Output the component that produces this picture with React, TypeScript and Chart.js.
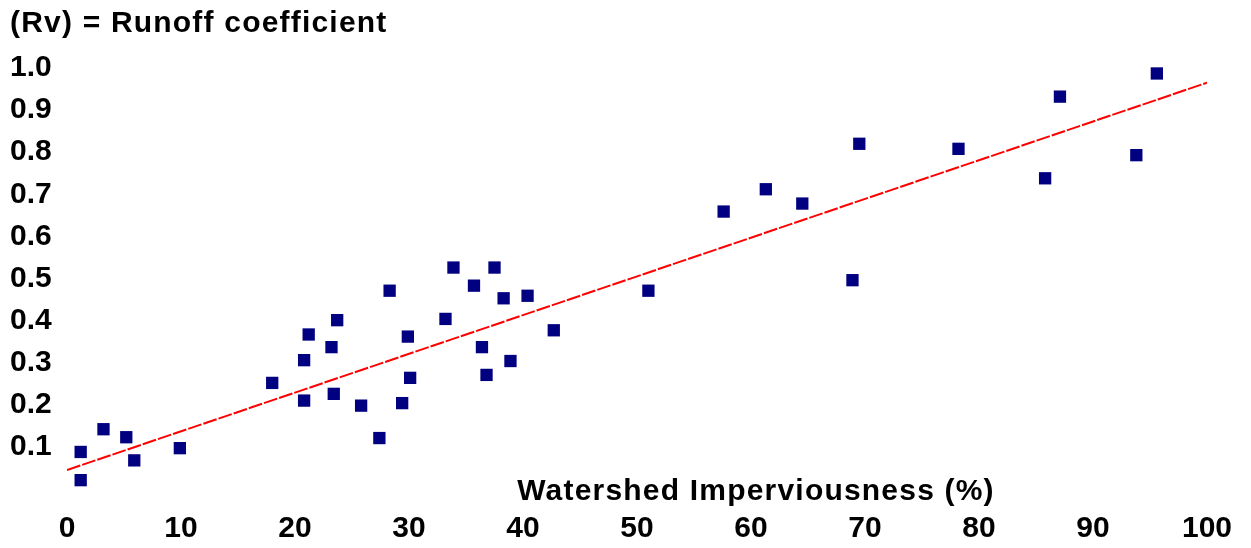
import React, { useEffect, useRef } from "react";
import { Chart, registerables } from "chart.js";

Chart.register(...registerables);

const imperviousness = [1.2, 1.2, 3.2, 5.2, 5.9, 9.9, 18.0, 20.8, 21.2, 20.8, 23.2, 23.7, 23.4, 25.8, 27.4, 28.3, 29.9, 29.4, 30.1, 33.2, 33.9, 35.7, 37.5, 36.4, 36.8, 38.3, 38.9, 40.4, 42.7, 51.0, 57.6, 61.3, 64.5, 68.9, 69.5, 78.2, 85.8, 87.1, 93.8, 95.6];
const runoff = [0.088, 0.021, 0.142, 0.123, 0.068, 0.097, 0.252, 0.306, 0.367, 0.21, 0.337, 0.401, 0.226, 0.198, 0.121, 0.471, 0.362, 0.204, 0.264, 0.404, 0.526, 0.483, 0.526, 0.337, 0.271, 0.453, 0.304, 0.459, 0.377, 0.471, 0.659, 0.712, 0.678, 0.496, 0.82, 0.808, 0.738, 0.932, 0.793, 0.987];
const trendX = [0, 100];
const trendY = [0.045, 0.965];
const yTitle = "(Rv) = Runoff coefficient";
const xTitle = "Watershed Imperviousness (%)";

const FONT = "'Liberation Sans', Arial, sans-serif";

export default function App() {
  const ref = useRef<HTMLCanvasElement | null>(null);
  useEffect(() => {
    if (!ref.current) return;
    const titles = {
      id: "titles",
      afterDraw(chart: any) {
        const ctx = chart.ctx;
        ctx.save();
        ctx.fillStyle = "#000";
        ctx.font = `bold 30px ${FONT}`;
        (ctx as any).letterSpacing = "1.2px";
        ctx.textBaseline = "middle";
        ctx.textAlign = "left";
        ctx.fillText(yTitle, 10, 24);
        ctx.textAlign = "center";
        ctx.fillText(xTitle, 756, 492);
        (ctx as any).letterSpacing = "0px";
        ctx.restore();
      },
    };
    const chart = new Chart(ref.current, {
      type: "scatter",
      data: {
        datasets: [
          {
            type: "line",
            data: trendX.map((x, i) => ({ x, y: trendY[i] })),
            borderColor: "#ff0000",
            borderWidth: 2,
            borderDash: [14, 2],
            pointRadius: 0,
            fill: false,
            order: 2,
          } as any,
          {
            data: imperviousness.map((x, i) => ({ x, y: runoff[i] })),
            pointStyle: "rect",
            pointRadius: 8.7,
            pointBorderWidth: 0,
            backgroundColor: "#000080",
            borderColor: "#000080",
            order: 1,
            clip: false,
          } as any,
        ],
      },
      options: {
        animation: false,
        responsive: false,
        maintainAspectRatio: false,
        layout: { padding: { left: 10, top: 68, right: 44, bottom: 0 } },
        plugins: { legend: { display: false }, tooltip: { enabled: false }, title: { display: false } },
        scales: {
          x: {
            type: "linear",
            min: 0,
            max: 100,
            grid: { display: false, drawTicks: false },
            border: { display: false },
            ticks: {
              stepSize: 10,
              padding: 22,
              color: "#000",
              font: { family: FONT, size: 30, weight: "bold" },
              maxRotation: 0,
            },
            afterFit: (s: any) => { s.height = 59; s.paddingRight = 0; s.paddingLeft = 0; },
          },
          y: {
            min: 0,
            max: 1,
            grid: { display: false, drawTicks: false },
            border: { display: false },
            ticks: {
              stepSize: 0.1,
              color: "#000",
              crossAlign: "far",
              font: { family: FONT, size: 30, weight: "bold" },
              callback: (v: any) => (Math.abs(v) < 1e-9 ? "" : Number(v).toFixed(1)),
            },
            afterFit: (s: any) => { s.width = 57; },
          },
        },
      } as any,
      plugins: [titles],
    });
    return () => chart.destroy();
  }, []);
  return (
    <div style={{ position: "fixed", left: 0, top: 0, width: 1251, height: 548, background: "#fff" }}>
      <canvas ref={ref} width={1251} height={548} style={{ width: 1251, height: 548 }} />
    </div>
  );
}
